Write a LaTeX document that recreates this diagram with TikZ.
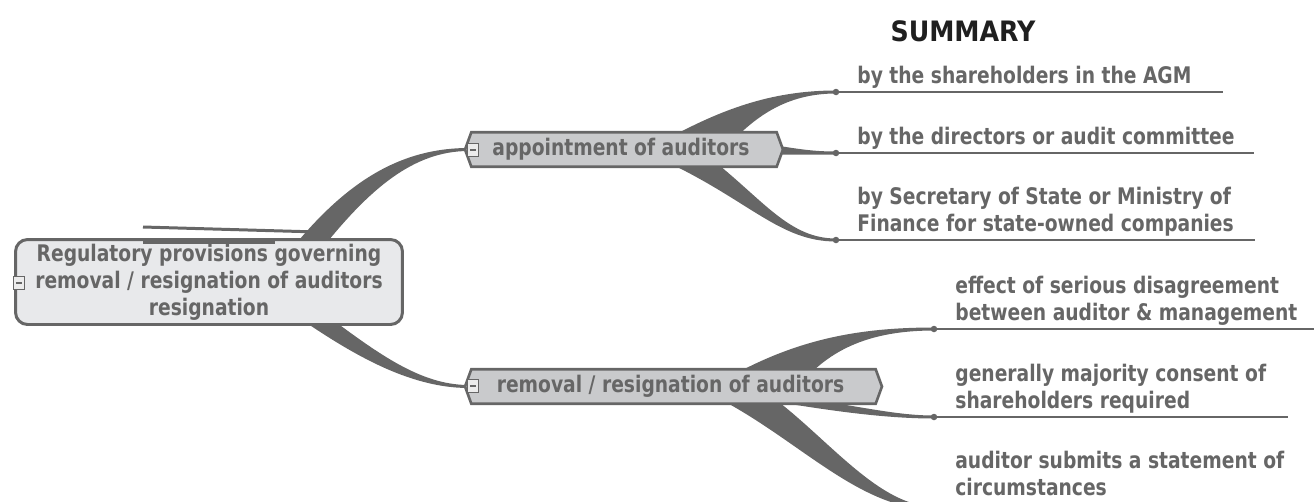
\documentclass[tikz,border=0pt]{standalone}
\usepackage{fontspec}
\setmainfont{DejaVu Sans Condensed}[FakeStretch=0.91]
\newfontfamily\titlefont{DejaVu Sans Condensed}
\usetikzlibrary{shapes.symbols,backgrounds,positioning}

\definecolor{linegray}{RGB}{102,102,102}
\definecolor{rootfill}{RGB}{232,233,235}
\definecolor{branchfill}{RGB}{201,202,204}
\definecolor{foldfill}{RGB}{236,236,236}

\tikzset{
  every node/.style={font=\fontsize{13}{15.3}\selectfont\bfseries, text=linegray},
  rootbox/.style={draw=linegray, line width=1.7pt, fill=rootfill, rounded corners=0.24cm,
    minimum width=7.74cm, minimum height=1.7cm, align=center, inner sep=0pt},
  branchbox/.style={signal, signal to=east and west, signal pointer angle=140,
    draw=linegray, line width=1.5pt, fill=branchfill, minimum height=0.69cm, inner sep=0pt},
  fold/.style={draw=linegray, line width=0.8pt, fill=foldfill, minimum width=0.21cm,
    minimum height=0.27cm, inner sep=0pt,
    path picture={\draw[linegray, line width=1.1pt] ([xshift=1.2pt]path picture bounding box.west)
      -- ([xshift=-1.2pt]path picture bounding box.east);}},
  leaf/.style={anchor=base west, align=left, inner sep=0pt},
  dot/.style={circle, fill=linegray, inner sep=0pt, minimum size=0.13cm},
  uline/.style={draw=linegray, line width=1.1pt},
  conn/.style={fill=linegray},
}

\begin{document}
\begin{tikzpicture}[x=0.02cm, y=-0.02cm]
  \useasboundingbox (0,0) rectangle (1314,501);

  \node[font=\titlefont\fontsize{16}{19}\selectfont\bfseries, text=black!88] (title) at (963,31) {SUMMARY};

  % root and the two branches
  \node[rootbox] (root) at (209,282) {Regulatory provisions governing\\removal / resignation of auditors\\resignation};
  \node[fold] (rootfold) at (19,283) {};
  \node[branchbox, minimum width=6.36cm] (app) at (624,149.5) {appointment of auditors\hspace*{0.12cm}};
  \node[fold] (appfold) at (473,150) {};
  \node[branchbox, minimum width=8.34cm] (rem) at (673.5,386.5) {removal / resignation of auditors\hspace*{0.12cm}};
  \node[fold] (remfold) at (473,386) {};

  % leaves of appointment
  \node[dot] (d1) at (836,92) {};
  \node[dot] (d2) at (836,153) {};
  \node[dot] (d3) at (836,240) {};
  \node[leaf] (l1) at ([shift={(21,-9)}]d1.center) {by the shareholders in the AGM};
  \node[leaf] (l2) at ([shift={(21,-9)}]d2.center) {by the directors or audit committee};
  \node[leaf] (l3) at ([shift={(21,-9)}]d3.center) {by Secretary of State or Ministry of\\Finance for state-owned companies};
  \draw[uline] (d1.center) -- ++(387,0);
  \draw[uline] (d2.center) -- ++(418,0);
  \draw[uline] (d3.center) -- ++(419,0);

  % leaves of removal
  \node[dot] (e1) at (934,329) {};
  \node[dot] (e2) at (934,417) {};
  \node[dot] (e3) at (934,508) {};
  \node[leaf] (m1) at ([shift={(21,-9)}]e1.center) {effect of serious disagreement\\between auditor \& management};
  \node[leaf] (m2) at ([shift={(21,-9)}]e2.center) {generally majority consent of\\shareholders required};
  \node[leaf] (m3) at ([shift={(21,-13)}]e3.center) {auditor submits a statement of\\circumstances};
  \draw[uline] (e1.center) -- ++(390,0);
  \draw[uline] (e2.center) -- ++(354,0);
  \draw[uline] (e3.center) -- ++(354,0);

  % stray strokes over the root
  \draw[linegray, line width=1.7pt] (143,227) -- (318,232);
  \draw[linegray, line width=1.7pt] (143,242) -- (275,242);

  \begin{pgfonlayer}{background}
    % root to branches
    \fill[conn] ([shift={(83,10.5)}]root.north) .. controls +(53,-65) and +(-70,0) .. ([shift={(5,-1.5)}]app.west)
      -- ([shift={(5,1.5)}]app.west) .. controls +(-55,0) and +(48,-60) .. ([shift={(113,10.5)}]root.north) -- cycle;
    \fill[conn] ([shift={(81,-14.5)}]root.south) .. controls +(60,42) and +(-60,0) .. ([shift={(5,1.5)}]rem.west)
      -- ([shift={(5,-1.5)}]rem.west) .. controls +(-50,0) and +(60,45) .. ([shift={(106,-19.5)}]root.south) -- cycle;
    % appointment to leaves
    \fill[conn] ([shift={(44,7.5)}]app.north) .. controls +(52,-28) and +(-66,0) .. ([shift={(0,-1.5)}]d1.center)
      -- ([shift={(0,1.5)}]d1.center) .. controls +(-46,0) and +(25,-25) .. ([shift={(111,7.5)}]app.north) -- cycle;
    \fill[conn] ([shift={(-8,-4)}]app.east) .. controls +(25,4) and +(-21,0) .. ([shift={(0,-1.5)}]d2.center)
      -- ([shift={(0,1.5)}]d2.center) .. controls +(-21,0) and +(25,0) .. ([shift={(-8,5)}]app.east) -- cycle;
    \fill[conn] ([shift={(90,-7)}]app.south) .. controls +(50,40) and +(-46,0) .. ([shift={(0,-1.5)}]d3.center)
      -- ([shift={(0,1.5)}]d3.center) .. controls +(-56,0) and +(85,40) .. ([shift={(41,-7)}]app.south) -- cycle;
    % removal to leaves
    \fill[conn] ([shift={(61.5,6)}]rem.north) .. controls +(65,-35) and +(-74,0) .. ([shift={(0,-1.5)}]e1.center)
      -- ([shift={(0,1.5)}]e1.center) .. controls +(-54,0) and +(30,-30) .. ([shift={(136.5,6)}]rem.north) -- cycle;
    \fill[conn] ([shift={(106.5,-9)}]rem.south) .. controls +(70,7) and +(-44,0) .. ([shift={(0,-1.5)}]e2.center)
      -- ([shift={(0,1.5)}]e2.center) .. controls +(-54,0) and +(60,10) .. ([shift={(86.5,-6)}]rem.south) -- cycle;
    \fill[conn] ([shift={(101.5,-6)}]rem.south) .. controls +(55,42) and +(-54,0) .. ([shift={(0,-1.5)}]e3.center)
      -- ([shift={(0,1.5)}]e3.center) .. controls +(-74,0) and +(80,42) .. ([shift={(46.5,-6)}]rem.south) -- cycle;
  \end{pgfonlayer}
\end{tikzpicture}
\end{document}
